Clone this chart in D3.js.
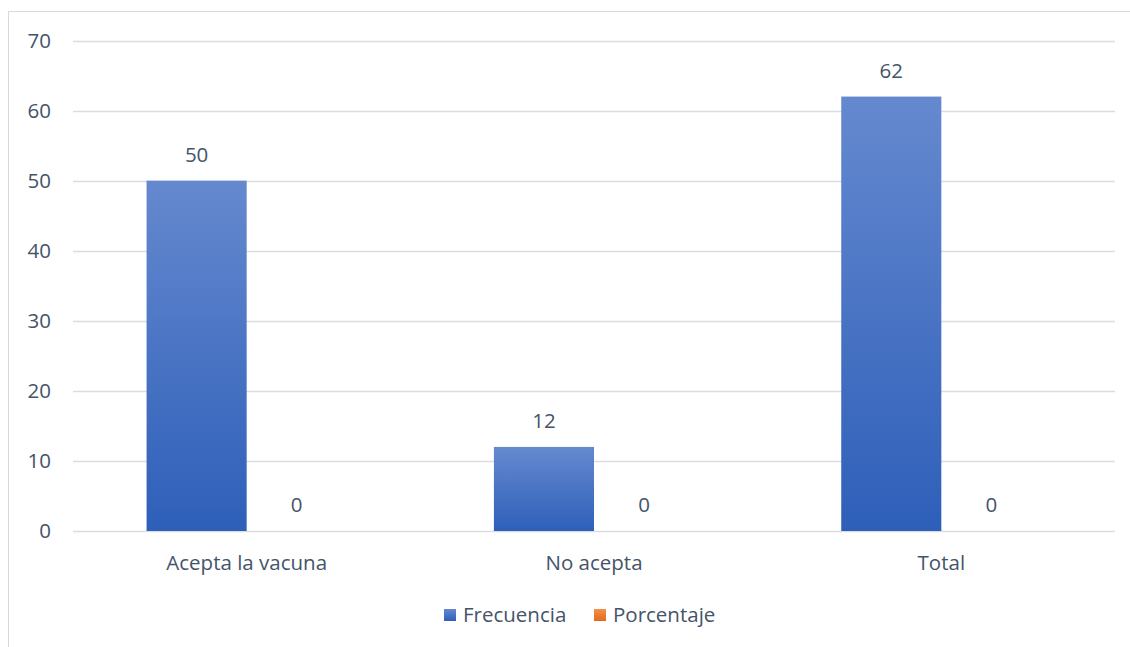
<!DOCTYPE html>
<html>
<head>
<meta charset="utf-8">
<script src="https://cdn.jsdelivr.net/npm/d3@7"></script>
<style>
  html, body { margin: 0; padding: 0; background: #fff; }
  svg { display: block; }
  text { font-family: "Open Sans", "Noto Sans", sans-serif; fill: #44546a; }
</style>
</head>
<body>
<svg id="chart" width="1130" height="647"></svg>
<script>
// Vaccine acceptance counts
const categories = ["Acepta la vacuna", "No acepta", "Total"];
const seriesNames = ["Frecuencia", "Porcentaje"];
const frecuencia = [50, 12, 62];
const porcentaje = [0, 0, 0];
const yTicks = [0, 10, 20, 30, 40, 50, 60, 70];

const svg = d3.select("#chart");
const W = 1130, H = 647;
const FS = 20.5;
const plot = { left: 73, right: 1115, top: 40.5, bottom: 531 };

// Outer chart frame (extends past the right and bottom edges)
svg.append("rect")
  .attr("x", 8.5).attr("y", 11.5)
  .attr("width", W + 10).attr("height", H + 10)
  .attr("fill", "#fff").attr("stroke", "#d9d9d9").attr("stroke-width", 1);

const defs = svg.append("defs");
const grad = defs.append("linearGradient")
  .attr("id", "barGrad").attr("x1", 0).attr("y1", 0).attr("x2", 0).attr("y2", 1);
grad.append("stop").attr("offset", "0%").attr("stop-color", "#6589cf");
grad.append("stop").attr("offset", "100%").attr("stop-color", "#2e5fb9");
const gradO = defs.append("linearGradient")
  .attr("id", "barGradO").attr("x1", 0).attr("y1", 0).attr("x2", 0).attr("y2", 1);
gradO.append("stop").attr("offset", "0%").attr("stop-color", "#f4904a");
gradO.append("stop").attr("offset", "100%").attr("stop-color", "#e06a1c");

const x0 = d3.scaleBand().domain(categories).range([plot.left, plot.right]).paddingInner(0).paddingOuter(0);
const x1 = d3.scaleBand().domain(seriesNames).range([0, x0.bandwidth()]).paddingInner(0).paddingOuter(0.735);
const y = d3.scaleLinear().domain([0, 70]).range([plot.bottom, plot.top]);

// Horizontal gridlines
svg.append("g").selectAll("line").data(yTicks).join("line")
  .attr("x1", plot.left).attr("x2", plot.right)
  .attr("y1", d => Math.round(y(d)) + 0.5).attr("y2", d => Math.round(y(d)) + 0.5)
  .attr("stroke", "#d9dde3").attr("stroke-width", 1.3);

// Y axis labels
const yAxis = d3.axisLeft(y).tickValues(yTicks).tickSize(0).tickPadding(0);
const gy = svg.append("g").attr("transform", `translate(${plot.left - 22},0)`).call(yAxis);
gy.select(".domain").remove();
gy.selectAll("text").attr("font-size", FS).attr("fill", "#44546a")
  .attr("font-family", "'Open Sans', sans-serif").attr("text-anchor", "end");

// Bars
const rows = categories.map((c, i) => ({ cat: c, values: [frecuencia[i], porcentaje[i]] }));
const groups = svg.append("g").selectAll("g").data(rows).join("g")
  .attr("transform", d => `translate(${x0(d.cat)},0)`);

groups.selectAll("rect").data(d => d.values.map((v, j) => ({ s: seriesNames[j], v, j })))
  .join("rect")
  .attr("x", d => x1(d.s)).attr("width", x1.bandwidth())
  .attr("y", d => y(d.v)).attr("height", d => y(0) - y(d.v))
  .attr("fill", d => d.j === 0 ? "url(#barGrad)" : "url(#barGradO)");

// Value labels
groups.selectAll("text.val").data(d => d.values.map((v, j) => ({ s: seriesNames[j], v, j })))
  .join("text").attr("class", "val")
  .attr("x", d => x1(d.s) + x1.bandwidth() / 2)
  .attr("y", d => y(d.v) - 19)
  .attr("text-anchor", "middle").attr("font-size", FS)
  .text(d => d.v);

// Category labels
const xAxis = d3.axisBottom(x0).tickSize(0).tickPadding(0);
const gx = svg.append("g").attr("transform", `translate(0,${plot.bottom + 24})`).call(xAxis);
gx.select(".domain").remove();
gx.selectAll("text").attr("font-size", FS).attr("fill", "#44546a")
  .attr("font-family", "'Open Sans', sans-serif").attr("dy", "0.71em");

// Legend
const legendX = [444, 594];
const legend = svg.append("g").selectAll("g").data(seriesNames).join("g")
  .attr("transform", (d, i) => `translate(${legendX[i]},${609})`);
legend.append("rect").attr("width", 12).attr("height", 12)
  .attr("fill", (d, i) => i === 0 ? "url(#barGrad)" : "url(#barGradO)");
legend.append("text").attr("x", 19).attr("y", 6).attr("dy", "0.35em")
  .attr("font-size", FS).text(d => d);
</script>
</body>
</html>
